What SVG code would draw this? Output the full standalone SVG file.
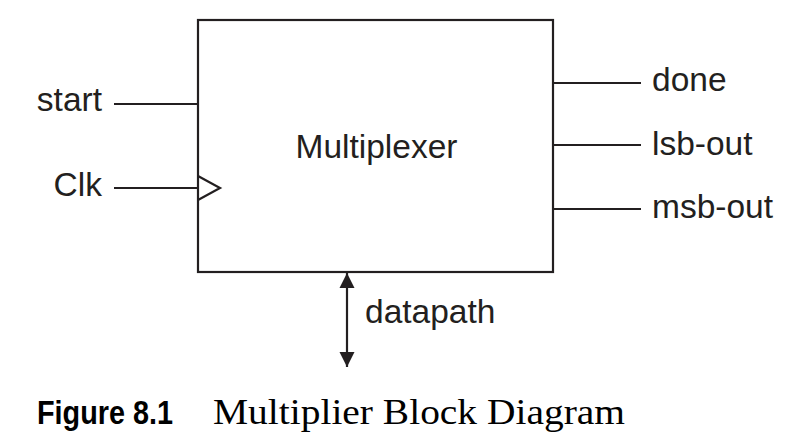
<svg xmlns="http://www.w3.org/2000/svg" width="794" height="448" viewBox="0 0 794 448">
<defs>
<style>
.ln{stroke:#231f20;stroke-width:2.2;fill:none}
.lbl{font-family:"Liberation Sans",Arial,sans-serif;font-size:33.5px;fill:#231f20}
</style>
<marker id="ah" viewBox="0 0 10 10" refX="10" refY="5" markerWidth="7" markerHeight="7" orient="auto-start-reverse" markerUnits="strokeWidth">
<path d="M0,0 L10,5 L0,10 Z" fill="#231f20"/>
</marker>
</defs>
<rect width="794" height="448" fill="#fff"/>
<g id="block">
<rect class="ln" x="198" y="20" width="355" height="252"/>
<path class="ln" d="M198,176 L220,188 L198,200"/>
<text class="lbl" x="376.5" y="158" text-anchor="middle">Multiplexer</text>
</g>
<g id="connectors">
<line class="ln" x1="114" y1="104" x2="198" y2="104"/>
<line class="ln" x1="114" y1="188" x2="198" y2="188"/>
<line class="ln" x1="553" y1="83" x2="641" y2="83"/>
<line class="ln" x1="553" y1="145" x2="641" y2="145"/>
<line class="ln" x1="553" y1="209" x2="641" y2="209"/>
<line class="ln" x1="347" y1="273" x2="347" y2="367" marker-start="url(#ah)" marker-end="url(#ah)"/>
</g>
<g id="start"><text class="lbl" x="102" y="111" text-anchor="end">start</text></g>
<g id="clk"><text class="lbl" x="102" y="196" text-anchor="end">Clk</text></g>
<g id="done"><text class="lbl" x="652" y="91">done</text></g>
<g id="lsb-out"><text class="lbl" x="652" y="155">lsb-out</text></g>
<g id="msb-out"><text class="lbl" x="652" y="218">msb-out</text></g>
<g id="datapath"><text class="lbl" x="365" y="323">datapath</text></g>
<g id="caption">
<text x="37" y="424" font-family="Liberation Sans,Arial,sans-serif" font-weight="bold" font-size="33" textLength="136" lengthAdjust="spacingAndGlyphs" fill="#000">Figure 8.1</text>
<text x="213" y="424" font-family="Liberation Serif,Times New Roman,serif" font-size="36" textLength="412" lengthAdjust="spacingAndGlyphs" fill="#000">Multiplier Block Diagram</text>
</g>
</svg>
